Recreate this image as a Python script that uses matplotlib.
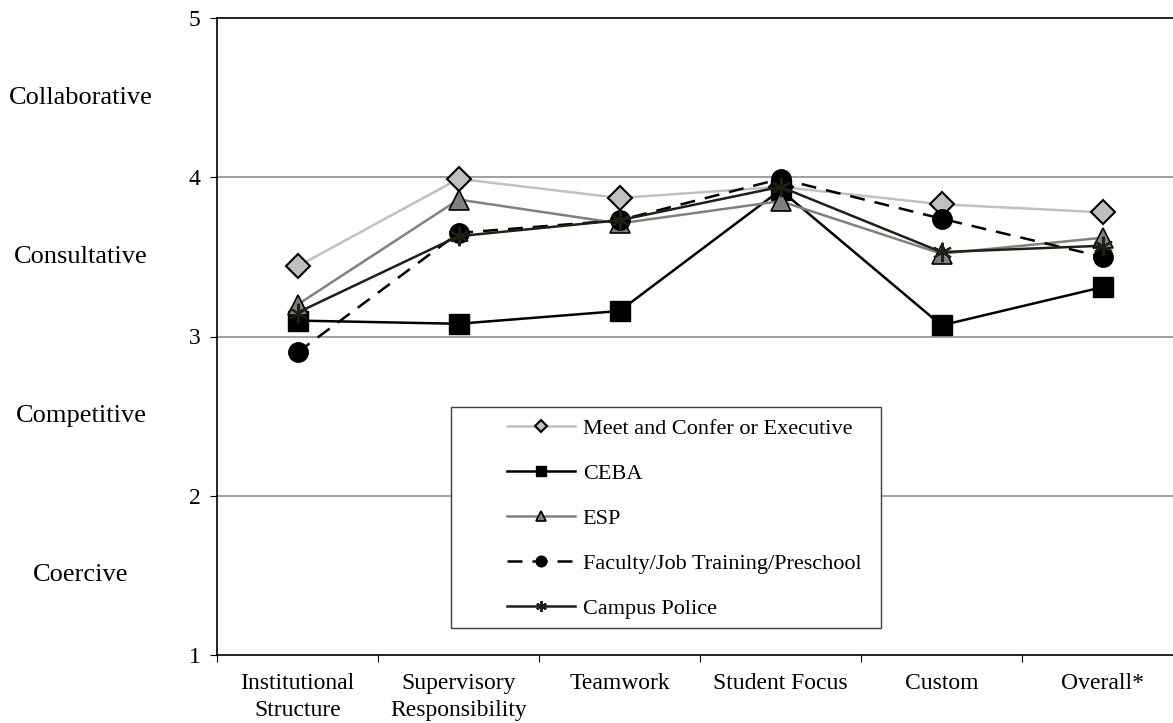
import matplotlib.pyplot as plt
from matplotlib.patches import Rectangle
from matplotlib.transforms import blended_transform_factory

plt.rcParams['font.family'] = ['Liberation Serif', 'DejaVu Serif']

categories = ['Institutional\nStructure', 'Supervisory\nResponsibility', 'Teamwork',
              'Student Focus', 'Custom', 'Overall*']
meet_confer = [3.44, 3.99, 3.87, 3.94, 3.83, 3.78]
ceba = [3.10, 3.08, 3.16, 3.92, 3.07, 3.31]
esp = [3.20, 3.86, 3.71, 3.85, 3.52, 3.62]
faculty = [2.90, 3.65, 3.73, 3.99, 3.74, 3.50]
campus_police = [3.15, 3.63, 3.73, 3.94, 3.53, 3.57]
level_labels = ['Coercive', 'Competitive', 'Consultative', 'Collaborative']

fig = plt.figure(figsize=(11.73, 7.23), dpi=100)
ax = fig.add_axes([217 / 1173, 1 - 655 / 723, 966 / 1173, 637 / 723])

x = range(len(categories))
ax.plot(x, meet_confer, color='#c0c0c0', lw=1.8, marker='D', ms=12,
        mfc='#c0c0c0', mec='black', mew=1.5, label='Meet and Confer or Executive', zorder=3)
ax.plot(x, ceba, color='black', lw=1.8, marker='s', ms=14,
        mfc='black', mec='black', label='CEBA', zorder=3)
ax.plot(x, esp, color='#808080', lw=1.8, marker='^', ms=14,
        mfc='#808080', mec='black', mew=1.2, label='ESP', zorder=3)
ax.plot(x, faculty, color='black', lw=1.8, ls=(0, (6, 4)), marker='o', ms=14,
        mfc='black', mec='black', label='Faculty/Job Training/Preschool', zorder=3)
ax.plot(x, campus_police, color='#1f1f14', lw=1.8, marker=(6, 2, 0), ms=14,
        mec='#1f1f14', mew=1.5, label='Campus Police', zorder=4)

ax.set_xlim(-0.5, 5.5)
ax.set_ylim(1, 5)
ax.set_yticks([1, 2, 3, 4, 5])
ax.tick_params(axis='y', labelsize=17, length=5, width=0.8, direction='out', pad=7)
ax.set_xticks(list(x))
ax.set_xticklabels(categories, fontsize=17, linespacing=1.4)
ax.tick_params(axis='x', which='major', length=0, pad=13)
ax.set_xticks([i + 0.5 for i in range(-1, 6)], minor=True)
ax.tick_params(axis='x', which='minor', length=5, width=0.8, direction='out')
for y in [2, 3, 4]:
    ax.axhline(y, color='#909090', lw=1.2, zorder=1)
ax.spines['right'].set_visible(False)
for s in ['left', 'bottom', 'top']:
    ax.spines[s].set_color('black')
    ax.spines[s].set_linewidth(1.2)

trans = blended_transform_factory(fig.transFigure, ax.transData)
for i, lab in enumerate(level_labels):
    ax.text(81 / 1173, 1.5 + i, lab, transform=trans, ha='center', va='center', fontsize=19)

# legend box drawn separately so the handles can sit inset like the original
ax.add_patch(Rectangle(((451 - 217) / 966, (655 - 628) / 637), 430 / 966, 221 / 637,
                       transform=ax.transAxes, fill=True, facecolor='white',
                       edgecolor='#404040', lw=1.0, zorder=5))
leg = ax.legend(loc='upper left', bbox_to_anchor=((507 - 217) / 966, (655 - 418) / 637),
                frameon=False, fontsize=16, handlelength=3.05, handletextpad=0.36,
                labelspacing=1.1, markerscale=0.55, borderaxespad=0, borderpad=0)
leg.set_zorder(6)

fig.savefig('out.png', dpi=100)
